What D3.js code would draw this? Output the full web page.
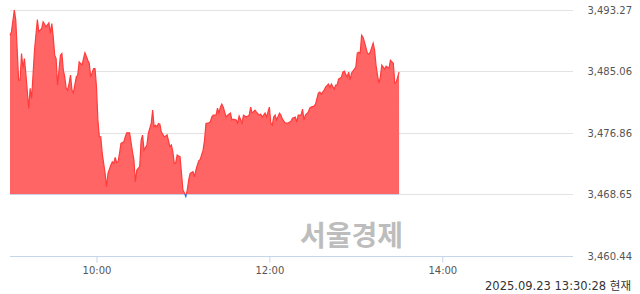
<!DOCTYPE html>
<html>
<head>
<meta charset="utf-8">
<script src="https://cdn.jsdelivr.net/npm/d3@7"></script>
<style>
  html, body { margin: 0; padding: 0; background: #fff; }
  svg { display: block; }
</style>
</head>
<body>
<svg id="chart" width="640" height="294"></svg>
<script>
// intraday index, minute closes
var times = ["09:00","09:01","09:03","09:04","09:06","09:07","09:08","09:09","09:10","09:11",
  "09:13","09:14","09:15","09:17","09:19","09:20","09:22","09:23","09:24","09:25",
  "09:27","09:28","09:29","09:30","09:31","09:32","09:33","09:35","09:36","09:37",
  "09:38","09:39","09:40","09:41","09:42","09:43","09:44","09:46","09:47","09:48",
  "09:50","09:51","09:52","09:54","09:55","09:56","09:58","09:59","10:00","10:01",
  "10:02","10:03","10:04","10:05","10:06","10:07","10:08","10:10","10:11","10:12",
  "10:13","10:14","10:15","10:16","10:17","10:19","10:20","10:21","10:23","10:25",
  "10:26","10:27","10:28","10:30","10:31","10:32","10:33","10:35","10:36","10:38",
  "10:39","10:40","10:41","10:42","10:43","10:44","10:45","10:47","10:48","10:49",
  "10:51","10:52","10:53","10:54","10:55","10:56","10:57","10:58","10:59","11:00",
  "11:01","11:02","11:03","11:04","11:05","11:07","11:08","11:09","11:10","11:11",
  "11:12","11:14","11:15","11:16","11:18","11:19","11:20","11:21","11:23","11:24",
  "11:25","11:26","11:27","11:28","11:30","11:31","11:33","11:34","11:35","11:37",
  "11:38","11:39","11:41","11:42","11:44","11:46","11:47","11:48","11:50","11:51",
  "11:53","11:54","11:55","11:57","11:58","12:00","12:01","12:02","12:03","12:04",
  "12:05","12:07","12:08","12:09","12:11","12:12","12:13","12:15","12:16","12:18",
  "12:19","12:20","12:22","12:23","12:24","12:25","12:27","12:28","12:29","12:31",
  "12:32","12:34","12:35","12:36","12:38","12:39","12:41","12:42","12:43","12:45",
  "12:46","12:47","12:48","12:50","12:51","12:52","12:54","12:55","12:56","12:57",
  "12:59","13:00","13:01","13:02","13:03","13:04","13:05","13:06","13:08","13:09",
  "13:10","13:12","13:13","13:14","13:15","13:16","13:17","13:18","13:19","13:20",
  "13:21","13:23","13:24","13:26","13:27","13:28","13:30"];

var closes = [3489.85,3490.29,3493.18,3491.85,3483.86,3483.86,3487.41,3485.41,3486.74,3484.75,
  3480.09,3482.76,3481.42,3487.85,3491.93,3490.29,3490.74,3491.62,3491.31,3490.96,
  3491.49,3490.07,3491.40,3489.63,3487.19,3486.74,3483.20,3487.19,3487.41,3485.19,
  3484.30,3482.75,3482.53,3483.42,3484.53,3482.53,3482.17,3484.30,3484.53,3486.30,
  3485.86,3486.74,3487.50,3486.52,3486.08,3484.30,3485.41,3485.41,3482.97,3478.54,
  3476.32,3476.32,3474.10,3472.77,3471.44,3469.66,3471.44,3472.55,3472.99,3472.77,
  3473.57,3472.86,3472.99,3474.10,3475.43,3475.65,3476.32,3476.85,3476.85,3474.32,
  3473.21,3470.33,3471.88,3472.33,3475.88,3476.54,3474.54,3475.21,3476.76,3478.09,
  3479.87,3477.65,3477.87,3477.65,3478.09,3478.00,3476.98,3476.32,3476.41,3476.58,
  3474.99,3475.21,3474.32,3472.77,3472.86,3473.88,3473.75,3473.66,3471.44,3469.22,
  3468.87,3468.42,3469.22,3470.55,3471.44,3471.66,3470.99,3471.88,3472.55,3473.12,
  3473.30,3474.54,3475.88,3478.09,3478.18,3478.31,3478.94,3479.20,3479.20,3480.13,
  3479.47,3480.27,3480.67,3480.27,3478.94,3479.20,3479.47,3478.54,3478.67,3478.54,
  3478.14,3479.07,3478.14,3479.20,3478.94,3479.20,3480.27,3479.47,3479.87,3479.60,
  3479.20,3479.34,3478.94,3479.47,3478.94,3480.27,3478.14,3477.87,3478.94,3479.20,
  3478.54,3479.47,3479.20,3478.67,3478.14,3478.14,3478.14,3478.40,3478.80,3478.94,
  3478.27,3479.20,3479.20,3480.00,3478.54,3479.20,3479.60,3480.13,3480.27,3480.40,
  3480.67,3482.13,3482.26,3482.00,3482.53,3482.93,3483.33,3482.93,3483.33,3482.66,
  3483.20,3483.20,3483.99,3484.26,3484.93,3485.06,3484.26,3484.93,3483.86,3484.79,
  3485.32,3485.59,3487.45,3487.59,3487.45,3489.85,3489.58,3488.92,3487.45,3487.32,
  3487.59,3488.78,3487.85,3485.86,3484.53,3483.46,3484.26,3485.86,3485.59,3485.32,
  3485.72,3485.46,3486.52,3486.12,3483.46,3483.59,3484.93];

var prevClose = 3468.65;
var yTicks = [3460.44, 3468.65, 3476.86, 3485.06, 3493.27];
var xTicks = ["10:00", "12:00", "14:00"];
var sessionStart = "09:00", sessionEnd = "15:30";
var stamp = "2025.09.23 13:30:28 현재";
var watermark = "서울경제";

var parseTime = d3.timeParse("%H:%M");
var data = times.map(function(t, i) { return {t: parseTime(t), v: closes[i]}; });

var svg = d3.select("#chart");

var x = d3.scaleTime()
  .domain([parseTime(sessionStart), parseTime(sessionEnd)])
  .range([10, 572]);

var y = d3.scaleLinear()
  .domain([yTicks[0], yTicks[yTicks.length - 1]])
  .range([256, 9.5]);

// horizontal grid
svg.append("g")
  .selectAll("line")
  .data(yTicks.slice(1))
  .join("line")
  .attr("x1", 10).attr("x2", 573)
  .attr("y1", function(d) { return Math.round(y(d)) + 0.5; })
  .attr("y2", function(d) { return Math.round(y(d)) + 0.5; })
  .attr("stroke", "#e3e3e3");

// right labels
svg.append("g")
  .selectAll("text")
  .data(yTicks)
  .join("text")
  .attr("x", 632)
  .attr("y", function(d) { return y(d) + 4; })
  .attr("text-anchor", "end")
  .style("font", "10px 'DejaVu Sans', sans-serif")
  .attr("fill", "#555")
  .text(function(d) { return d3.format(",.2f")(d); });

// watermark sits behind the series
svg.append("text")
  .attr("x", 403).attr("y", 246)
  .attr("text-anchor", "end")
  .style("font", "bold 28px 'Noto Sans CJK KR', sans-serif")
  .attr("fill", "#bdbdbd")
  .text(watermark);

var base = y(prevClose);

// clip above / below the previous close
var defs = svg.append("defs");
defs.append("clipPath").attr("id", "above")
  .append("rect").attr("x", 0).attr("y", 0).attr("width", 640).attr("height", base);
defs.append("clipPath").attr("id", "below")
  .append("rect").attr("x", 0).attr("y", base).attr("width", 640).attr("height", 294 - base);

var area = d3.area()
  .x(function(d) { return x(d.t); })
  .y0(base)
  .y1(function(d) { return y(d.v); });

var line = d3.line()
  .x(function(d) { return x(d.t); })
  .y(function(d) { return y(d.v); });

svg.append("path").datum(data)
  .attr("clip-path", "url(#above)")
  .attr("d", area)
  .attr("fill", "#ff6565");
svg.append("path").datum(data)
  .attr("clip-path", "url(#below)")
  .attr("d", area)
  .attr("fill", "#6a9cff");

svg.append("path").datum(data)
  .attr("clip-path", "url(#above)")
  .attr("d", line)
  .attr("fill", "none")
  .attr("stroke", "#ff3b3b")
  .attr("stroke-width", 1.2);
svg.append("path").datum(data)
  .attr("clip-path", "url(#below)")
  .attr("d", line)
  .attr("fill", "none")
  .attr("stroke", "#1f6fff")
  .attr("stroke-width", 1.5);

// bottom axis
var xAxis = d3.axisBottom(x)
  .tickValues(xTicks.map(parseTime))
  .tickFormat(d3.timeFormat("%H:%M"))
  .tickSize(6)
  .tickSizeOuter(0);

var gx = svg.append("g")
  .attr("transform", "translate(0,256.5)")
  .call(xAxis);
gx.select(".domain").attr("stroke", "#c6d5ea").attr("d", "M10,0H573");
gx.selectAll(".tick line").attr("stroke", "#c6d5ea");
gx.selectAll(".tick text")
  .attr("dy", 0).attr("y", 17)
  .attr("fill", "#555")
  .style("font", "10px 'DejaVu Sans', sans-serif");

svg.append("text")
  .attr("x", 631).attr("y", 290)
  .attr("text-anchor", "end")
  .style("font", "11.5px 'DejaVu Sans', 'Noto Sans CJK KR', sans-serif")
  .attr("fill", "#333")
  .text(stamp);
</script>
</body>
</html>
